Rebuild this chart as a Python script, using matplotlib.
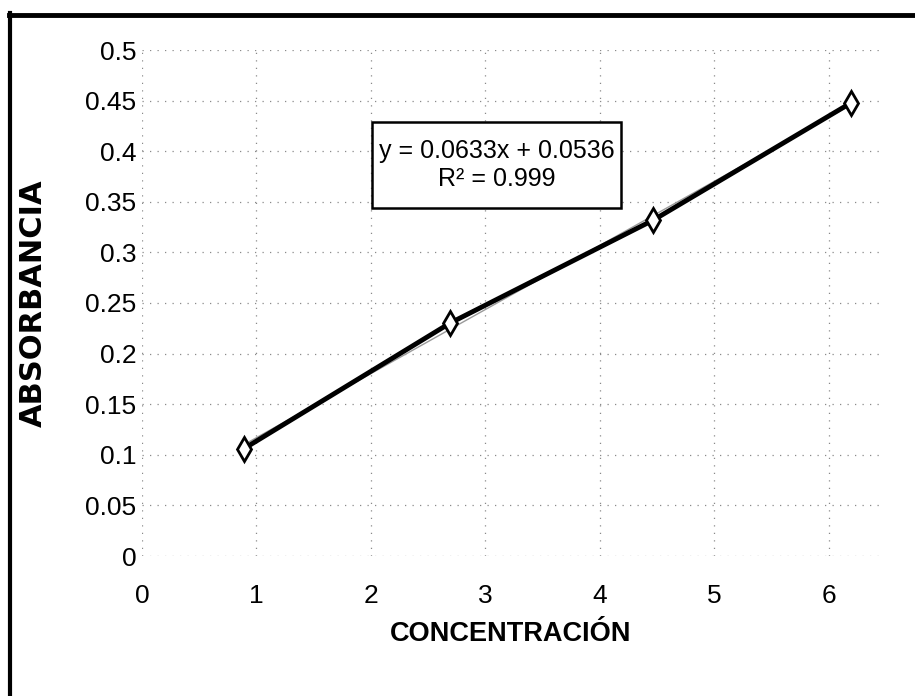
import numpy as np
import matplotlib.pyplot as plt
from matplotlib.lines import Line2D
from matplotlib.patches import Rectangle

# calibration data
concentracion = [0.89, 2.69, 4.47, 6.20]
absorbancia = [0.106, 0.230, 0.332, 0.448]
slope = 0.0633
intercept = 0.0536
r2 = 0.999

x_ticks = [0, 1, 2, 3, 4, 5, 6]
y_ticks = [0, 0.05, 0.1, 0.15, 0.2, 0.25, 0.3, 0.35, 0.4, 0.45, 0.5]
y_tick_labels = ['0', '0.05', '0.1', '0.15', '0.2', '0.25', '0.3', '0.35', '0.4', '0.45', '0.5']

font = ['Liberation Sans', 'DejaVu Sans']

W, H = 915, 696
fig = plt.figure(figsize=(W / 100, H / 100), dpi=100)
ax = fig.add_axes([142 / W, 1 - 556 / H, (880 - 142) / W, (556 - 50) / H])

# trendline (thin grey) under the data line
xt = np.array([concentracion[0], concentracion[-1]])
ax.plot(xt, slope * xt + intercept, color='#9a9a9a', linewidth=1.0, zorder=2)
ax.plot(concentracion, absorbancia, color='black', linewidth=3.5, zorder=3,
        marker='d', markersize=12, markerfacecolor='white',
        markeredgecolor='black', markeredgewidth=2.0)

ax.set_xlim(0, 6.45)
ax.set_ylim(0, 0.5)
ax.set_xticks(x_ticks)
ax.set_yticks(y_ticks)
ax.set_yticklabels(y_tick_labels)
ax.tick_params(length=0)
ax.tick_params(axis='x', pad=20)
ax.tick_params(axis='y', pad=4)
for lab in ax.get_xticklabels() + ax.get_yticklabels():
    lab.set_family(font)
    lab.set_fontsize(19)

ax.grid(True, linestyle=(0, (1, 5)), color='#8a8a8a', linewidth=0.9)
ax.set_axisbelow(True)
for s in ax.spines.values():
    s.set_visible(False)

ax.set_ylabel('ABSORBANCIA', fontsize=22, fontweight='bold', family='DejaVu Sans', va='center')
ax.yaxis.set_label_coords(-0.147, 0.5)
ax.set_xlabel('CONCENTRACIÓN', fontsize=19.5, fontweight='bold', family=font, va='center')
ax.xaxis.set_label_coords(0.5, -0.154)

# equation box
ax.add_patch(Rectangle((0.3117, 0.6877), 0.338, 0.170, transform=ax.transAxes,
                       facecolor='white', edgecolor='black', linewidth=1.8, zorder=4))
ax.text(0.4807, 0.7727, 'y = %.4fx + %.4f\nR² = %.3f' % (slope, intercept, r2),
        transform=ax.transAxes, ha='center', va='center', fontsize=18,
        family=font, linespacing=1.2, zorder=5)

# outer frame of the scanned chart
fig.add_artist(Line2D([10 / W, 10 / W], [0, 1 - 13 / H], transform=fig.transFigure, color='black', linewidth=3))
fig.add_artist(Line2D([9 / W, 1], [1 - 15 / H, 1 - 15 / H], transform=fig.transFigure, color='black', linewidth=3.5))

fig.savefig('out.png', dpi=100)
